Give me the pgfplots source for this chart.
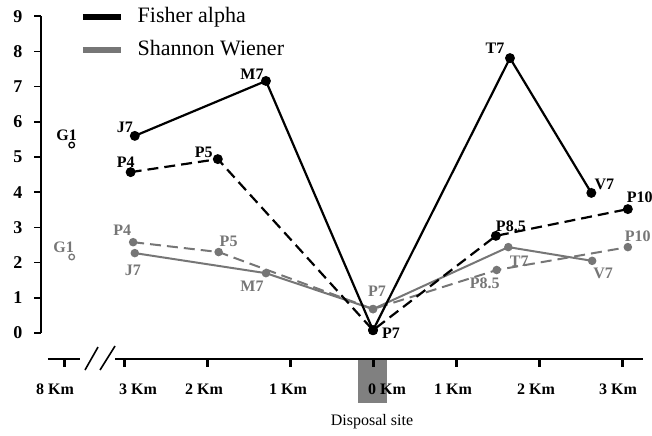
\documentclass[border=0pt]{standalone}
\usepackage{pgfplots}
\pgfplotsset{compat=1.18}
\usepackage{fontspec}
\setmainfont{Liberation Serif}
\definecolor{shgray}{RGB}{118,118,118}
\definecolor{sitegray}{RGB}{128,128,128}

\pgfplotstableread{
x y
-2.87 5.60
-1.29 7.16
0.00 0.08
1.65 7.81
2.63 3.98
}\fishersolid
\pgfplotstableread{
x y
-2.92 4.57
-1.87 4.94
0.00 0.08
1.48 2.76
3.07 3.52
}\fisherdash
\pgfplotstableread{
x y
-2.87 2.27
-1.29 1.70
0.00 0.68
1.63 2.44
2.64 2.05
}\shannonsolid
\pgfplotstableread{
x y
-2.89 2.58
-1.86 2.30
0.00 0.68
1.49 1.79
3.07 2.44
}\shannondash

\newcommand{\lbl}{\fontsize{16}{16}\selectfont\bfseries}

\begin{document}
\begin{tikzpicture}
\begin{axis}[
    x=83pt, y=35.2pt,
    xmin=-4.0, xmax=3.25, ymin=0, ymax=9,
    axis x line=none, axis y line*=left,
    axis line style={line width=1.6pt},
    xtick=\empty, ytick={0,...,9},
    tick align=outside, major tick length=7pt,
    tick style={line width=1.6pt, black},
    yticklabel style={font=\fontsize{18}{18}\selectfont\bfseries, xshift=-8pt},
    /pgf/number format/assume math mode=true,
    clip=false,
    legend image code/.code={\draw[#1] (0pt,0pt) -- (38pt,0pt);},
    legend cell align=left,
    legend style={draw=none, fill=none, inner sep=0pt, row sep=13pt,
        at={(axis cs:-3.53,9.26)}, anchor=north west,
        nodes={inner sep=0pt, text height=15pt, text depth=5pt,
            font=\fontsize{22}{22}\selectfont},
        /tikz/every odd column/.append style={column sep=14pt}},
]
% disposal site marker
\addplot[fill=sitegray, draw=none, forget plot] coordinates
    {(-0.181,-0.739) (0.169,-0.739) (0.169,-1.989) (-0.181,-1.989)} -- cycle;

\addlegendimage{black, line width=5.5pt}
\addlegendentry{Fisher alpha}
\addlegendimage{shgray, line width=5.5pt}
\addlegendentry{Shannon Wiener}

\addplot[shgray, line width=2pt, mark=*, mark size=3.2pt, forget plot]
    table {\shannonsolid};
\addplot[shgray, line width=2pt, dash pattern=on 11pt off 6pt,
    mark=*, mark size=3.2pt, mark options={solid}, forget plot]
    table {\shannondash};
\addplot[black, line width=2.2pt, mark=*, mark size=3.8pt, forget plot]
    table {\fishersolid};
\addplot[black, line width=2.2pt, dash pattern=on 11pt off 6pt,
    mark=*, mark size=3.8pt, mark options={solid}, forget plot]
    table {\fisherdash};
\addplot[only marks, mark=o, mark size=2.8pt, line width=1.3pt, black, forget plot]
    coordinates {(-3.63,5.34)};
\addplot[only marks, mark=o, mark size=2.8pt, line width=1.3pt, shgray, forget plot]
    coordinates {(-3.63,2.16)};

% point labels, Fisher alpha
\node[font=\lbl, xshift=-10pt, yshift=9pt]  at (axis cs:-2.87,5.60) {J7};
\node[font=\lbl, xshift=-14pt, yshift=7pt]  at (axis cs:-1.29,7.16) {M7};
\node[font=\lbl, xshift=18pt, yshift=-3pt]  at (axis cs:0,0.08) {P7};
\node[font=\lbl, xshift=-15pt, yshift=10pt] at (axis cs:1.65,7.81) {T7};
\node[font=\lbl, xshift=13pt, yshift=9pt]   at (axis cs:2.63,3.98) {V7};
\node[font=\lbl, xshift=-5pt, yshift=10pt]  at (axis cs:-2.92,4.57) {P4};
\node[font=\lbl, xshift=-14pt, yshift=7pt]  at (axis cs:-1.87,4.94) {P5};
\node[font=\lbl, xshift=15pt, yshift=10pt]  at (axis cs:1.48,2.76) {P8.5};
\node[font=\lbl, xshift=12pt, yshift=12pt]  at (axis cs:3.07,3.52) {P10};
\node[font=\lbl, xshift=-5pt, yshift=10pt]  at (axis cs:-3.63,5.34) {G1};

% point labels, Shannon Wiener
\node[font=\lbl, text=shgray, xshift=-2pt, yshift=-17pt]  at (axis cs:-2.87,2.27) {J7};
\node[font=\lbl, text=shgray, xshift=-14pt, yshift=-13pt] at (axis cs:-1.29,1.70) {M7};
\node[font=\lbl, text=shgray, xshift=4pt, yshift=18pt]    at (axis cs:0,0.68) {P7};
\node[font=\lbl, text=shgray, xshift=11pt, yshift=-14pt]  at (axis cs:1.63,2.44) {T7};
\node[font=\lbl, text=shgray, xshift=11pt, yshift=-13pt]  at (axis cs:2.64,2.05) {V7};
\node[font=\lbl, text=shgray, xshift=-11pt, yshift=12pt]  at (axis cs:-2.89,2.58) {P4};
\node[font=\lbl, text=shgray, xshift=10pt, yshift=11pt]   at (axis cs:-1.86,2.30) {P5};
\node[font=\lbl, text=shgray, xshift=-12pt, yshift=-13pt] at (axis cs:1.49,1.79) {P8.5};
\node[font=\lbl, text=shgray, xshift=10pt, yshift=11pt]   at (axis cs:3.07,2.44) {P10};
\node[font=\lbl, text=shgray, xshift=-8pt, yshift=10pt]   at (axis cs:-3.63,2.16) {G1};

% broken distance axis
\draw[line width=1.8pt] (axis cs:-3.916,-0.739) -- (axis cs:-3.53,-0.739);
\draw[line width=1.8pt] (axis cs:-3.108,-0.739) -- (axis cs:3.253,-0.739);
\draw[line width=1.6pt] (axis cs:-3.470,-1.051) -- (axis cs:-3.313,-0.398);
\draw[line width=1.6pt] (axis cs:-3.289,-1.051) -- (axis cs:-3.108,-0.369);
\pgfplotsinvokeforeach{-3.711,-3,-2,-1,0,1,2,3}{
    \draw[line width=3pt] (axis cs:#1,-0.739) -- ++(0pt,-8pt);
}
\node[font=\lbl] at (axis cs:-3.831,-1.591) {8 Km};
\node[font=\lbl] at (axis cs:-2.831,-1.591) {3 Km};
\node[font=\lbl] at (axis cs:-2.036,-1.591) {2 Km};
\node[font=\lbl] at (axis cs:-1.024,-1.591) {1 Km};
\node[font=\lbl] at (axis cs:0.169,-1.591) {0 Km};
\node[font=\lbl] at (axis cs:0.964,-1.591) {1 Km};
\node[font=\lbl] at (axis cs:1.964,-1.591) {2 Km};
\node[font=\lbl] at (axis cs:2.952,-1.591) {3 Km};
\node[font=\fontsize{16}{16}\selectfont] at (axis cs:-0.012,-2.528) {Disposal site};

\coordinate (bbtl) at (axis cs:-4.494,9.460);
\coordinate (bbbr) at (axis cs:3.361,-2.898);
\end{axis}
\pgfresetboundingbox
\path[use as bounding box] (bbtl) rectangle (bbbr);
\end{tikzpicture}
\end{document}
